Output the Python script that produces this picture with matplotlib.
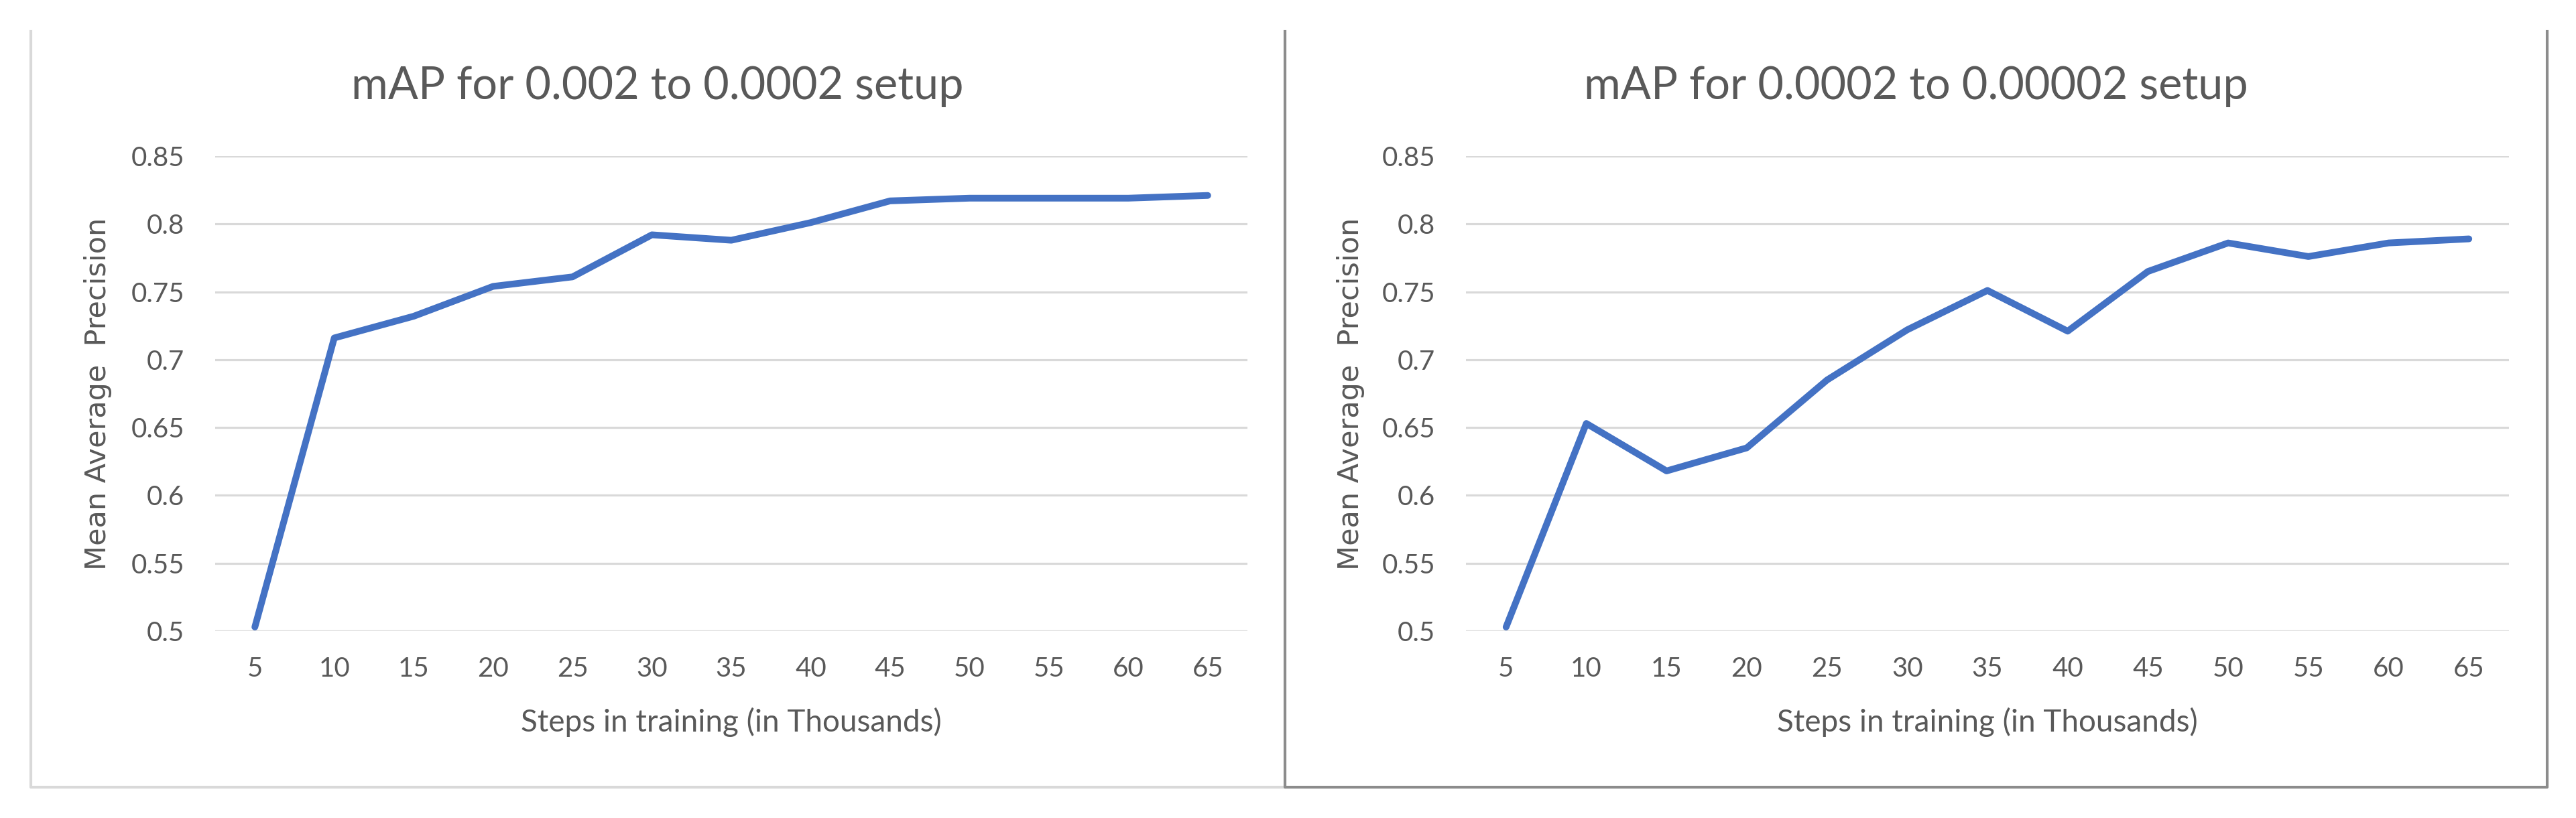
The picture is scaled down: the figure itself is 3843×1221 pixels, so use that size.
import matplotlib
matplotlib.use("Agg")
import matplotlib.pyplot as plt
from matplotlib.lines import Line2D

# data
steps = [5, 10, 15, 20, 25, 30, 35, 40, 45, 50, 55, 60, 65]
map_high_lr = [0.503, 0.716, 0.732, 0.754, 0.761, 0.792, 0.788, 0.801, 0.817, 0.819, 0.819, 0.819, 0.821]
map_low_lr = [0.503, 0.653, 0.618, 0.635, 0.685, 0.722, 0.751, 0.721, 0.765, 0.786, 0.776, 0.786, 0.789]
titles = ["mAP for 0.002 to 0.0002 setup", "mAP for 0.0002 to 0.00002 setup"]
yticks = [0.5, 0.55, 0.6, 0.65, 0.7, 0.75, 0.8, 0.85]
ytick_labels = ["0.5", "0.55", "0.6", "0.65", "0.7", "0.75", "0.8", "0.85"]
xlabel = "Steps in training (in Thousands)"
ylabel = "Mean Average  Precision"

W, H = 3843, 1221
TEXT = "#595959"
LINE = "#4472C4"
GRID = "#D9D9D9"

plt.rcParams.update({
    'font.family': ['Lato', 'DejaVu Sans'],
    'text.color': TEXT,
    'axes.labelcolor': TEXT,
    'xtick.color': TEXT,
    'ytick.color': TEXT,
})

fig = plt.figure(figsize=(W / 100, H / 100), dpi=100)
fig.patch.set_facecolor('white')


def fx(px):
    return px / W


def fy(py):
    return 1 - py / H


# axes boxes in pixels: (left, right), top/bottom shared
boxes = [(321, 1861), (2187, 3743)]
top_px, bot_px = 233, 942
ylabel_x = [146, 2015]
title_x = [981, 2858]
series = [map_high_lr, map_low_lr]

for i, (x0, x1) in enumerate(boxes):
    ax = fig.add_axes([fx(x0), fy(bot_px), fx(x1 - x0), (bot_px - top_px) / H])
    ax.plot(steps, series[i], color=LINE, linewidth=7.2,
            solid_joinstyle='round', solid_capstyle='round', zorder=3)

    ax.set_xlim(2.5, 67.5)
    ax.set_ylim(0.5, 0.85)
    ax.set_xticks(steps)
    ax.set_xticklabels([str(s) for s in steps], fontsize=29)
    ax.set_yticks(yticks)
    ax.set_yticklabels(ytick_labels, fontsize=29)
    ax.tick_params(axis='both', length=0)
    ax.tick_params(axis='x', pad=27)
    ax.tick_params(axis='y', pad=33)

    ax.yaxis.grid(True, color=GRID, linewidth=2.3)
    ax.set_axisbelow(True)
    for sp in ax.spines.values():
        sp.set_visible(False)

    ax.set_xlabel(xlabel, fontsize=33, va='center')
    ax.xaxis.set_label_coords(0.5, (bot_px - 1078) / (bot_px - top_px))
    ax.set_ylabel(ylabel, fontsize=31, family='DejaVu Sans', va='center', ha='center')
    ax.yaxis.set_label_coords((ylabel_x[i] - x0) / (x1 - x0), 0.5)

    fig.text(fx(title_x[i]), fy(148), titles[i], fontsize=48, ha='center', va='baseline')

# chart-area borders (top edge is cut off in the original)
fig.add_artist(Line2D([fx(46), fx(46), fx(1917)], [fy(47), fy(1175), fy(1175)],
                      transform=fig.transFigure, color=GRID, linewidth=3))
fig.add_artist(Line2D([fx(1917), fx(1917), fx(3800), fx(3800)],
                      [fy(47), fy(1175), fy(1175), fy(47)],
                      transform=fig.transFigure, color="#8C8C8C", linewidth=3))

fig.savefig("out.png", dpi=100, facecolor='white')
